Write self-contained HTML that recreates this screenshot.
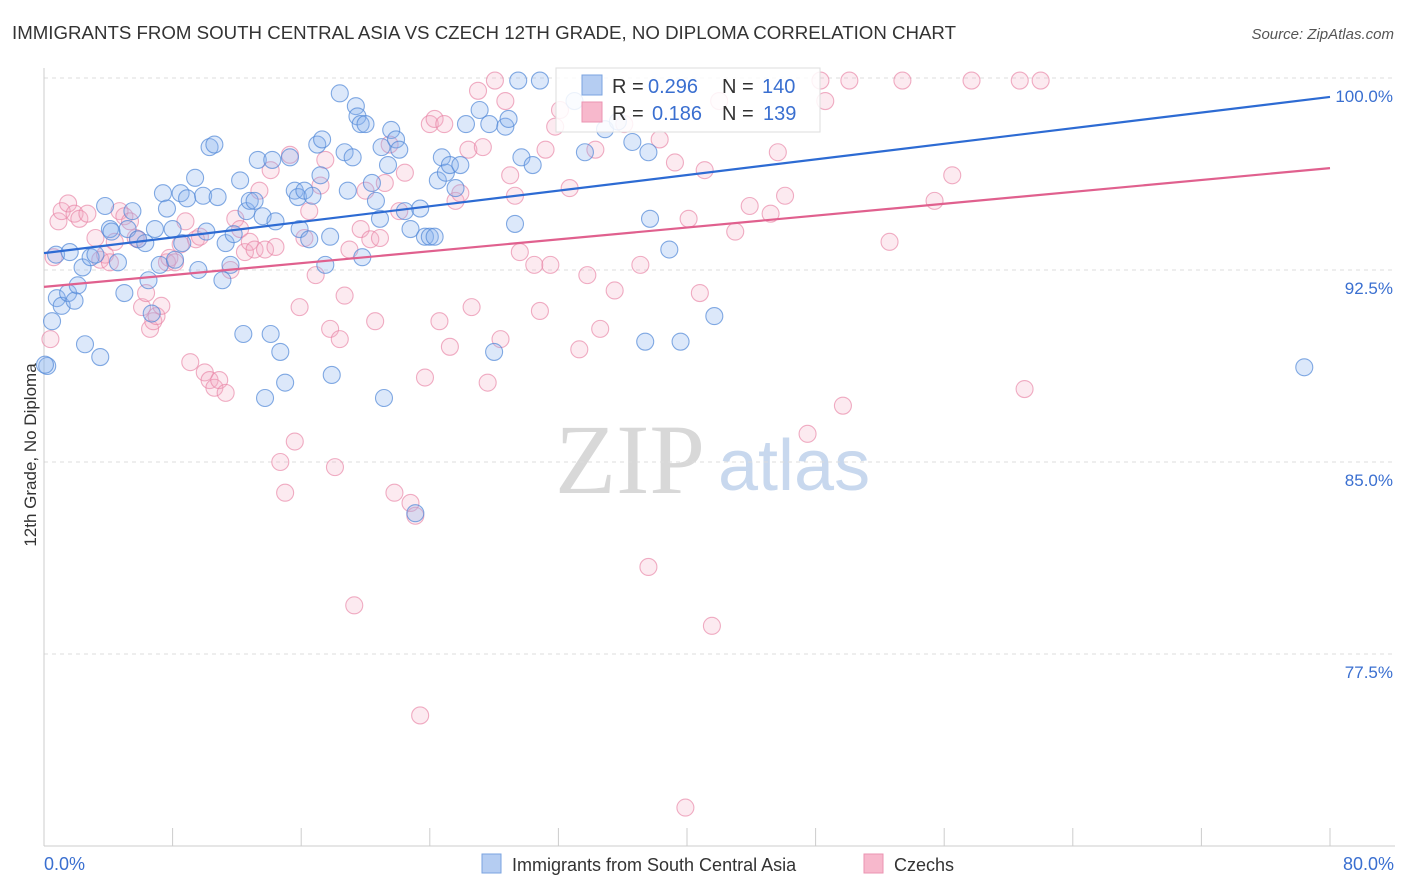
<!DOCTYPE html>
<html><head><meta charset="utf-8">
<style>
body{margin:0;background:#fff;font-family:"Liberation Sans",sans-serif;}
#wrap{position:relative;width:1406px;height:892px;overflow:hidden;}
</style></head>
<body>
<div id="wrap">
<svg id="chart" width="1406" height="892">
<text x="12" y="39" font-size="18" fill="#333" textLength="944" lengthAdjust="spacingAndGlyphs">IMMIGRANTS FROM SOUTH CENTRAL ASIA VS CZECH 12TH GRADE, NO DIPLOMA CORRELATION CHART</text>
<text x="1394" y="39" font-size="15" fill="#555" text-anchor="end" font-style="italic">Source: ZipAtlas.com</text>
<text x="36" y="455" font-size="17" fill="#333" text-anchor="middle" transform="rotate(-90 36 455)">12th Grade, No Diploma</text>
<text x="555" y="493" font-size="100" fill="#d8d8d8" font-family="Liberation Serif,serif">ZIP</text>
<text x="718" y="490" font-size="72" fill="#c8d8ee">atlas</text>
<g id="grid"></g><g id="pts"></g><g id="lines"></g>
<g>
<rect x="556" y="68" width="264" height="64" fill="#fff" fill-opacity="0.85" stroke="#ddd"/>
<rect x="582" y="75" width="20" height="20" fill="#b5cdf2" stroke="#7aa3e0"/>
<text y="93" font-size="20" fill="#333"><tspan x="612">R =</tspan><tspan x="648" fill="#3a6fd0">0.296</tspan><tspan x="722">N =</tspan><tspan x="762" fill="#3a6fd0">140</tspan></text>
<rect x="582" y="102" width="20" height="20" fill="#f7b8cc" stroke="#eb93b2"/>
<text y="120" font-size="20" fill="#333"><tspan x="612">R =</tspan><tspan x="652" fill="#3a6fd0">0.186</tspan><tspan x="722">N =</tspan><tspan x="763" fill="#3a6fd0">139</tspan></text>
</g>
<g>
<rect x="482" y="854" width="19" height="19" fill="#b5cdf2" stroke="#7aa3e0"/>
<text x="512" y="871" font-size="18" fill="#333">Immigrants from South Central Asia</text>
<rect x="864" y="854" width="19" height="19" fill="#f7b8cc" stroke="#eb93b2"/>
<text x="894" y="871" font-size="18" fill="#333">Czechs</text>
</g>
</svg>
</div>
<script>
const yTicks=[100,92.5,85,77.5];
const yTickLabels=["100.0%","92.5%","85.0%","77.5%"];
const xTickLabels=["0.0%","80.0%"];
const blueX=[0.2,0.5,0.8,1.1,1.5,1.9,2.1,2.4,2.55,2.9,3.2,3.5,3.8,4.1,4.2,4.6,5.0,5.2,5.5,5.85,6.3,6.5,6.7,6.9,7.2,7.4,7.65,8.0,8.15,8.5,8.6,8.9,9.4,9.6,9.9,10.1,10.3,10.6,10.8,11.1,11.3,11.6,11.8,12.2,12.4,12.6,12.8,13.1,13.3,13.6,13.75,14.1,14.2,14.4,14.7,15.0,15.3,15.6,15.8,15.9,16.2,16.5,16.7,17.0,17.2,17.3,17.5,17.8,17.9,18.4,18.7,18.9,19.2,19.4,19.5,19.7,19.8,20.0,20.4,20.65,20.9,21.0,21.15,21.4,21.6,21.9,22.1,22.45,22.8,23.1,23.4,23.7,24.0,24.3,24.5,24.75,25.0,25.25,25.6,25.9,26.25,27.1,27.7,28.0,28.7,28.9,29.3,29.5,29.7,30.4,30.85,33.0,33.65,34.9,35.7,36.6,37.4,37.7,37.6,38.9,39.6,41.7,78.4,0.06,0.75,1.6];
const blueY=[88.75,90.5,91.4,91.1,91.6,91.3,91.9,92.6,89.6,93.0,93.1,89.1,95.0,94.1,94.0,92.8,91.6,94.1,94.8,93.7,93.55,92.1,90.8,94.1,92.7,95.5,94.9,94.1,92.9,95.5,93.55,95.3,96.1,92.5,95.4,94.0,97.3,97.4,95.35,92.1,93.55,92.7,93.9,96.0,90.0,94.8,95.2,95.2,96.8,94.6,87.5,90.0,96.8,94.4,89.3,88.1,96.9,95.6,95.35,94.1,95.6,93.7,95.4,97.4,96.2,97.6,92.7,93.8,88.4,99.4,97.1,95.6,96.9,98.9,98.5,98.2,93.0,98.2,95.9,95.2,94.5,97.3,87.5,96.6,97.97,97.6,97.2,94.8,94.1,83.0,94.9,93.8,93.8,93.8,96.0,96.9,96.3,96.6,95.7,96.6,98.2,98.75,98.2,89.3,98.1,98.4,94.3,99.9,96.9,96.6,99.9,99.1,97.1,98.0,98.3,97.5,89.7,94.5,97.1,93.3,89.7,90.7,88.7,88.8,93.1,93.2];
const pinkX=[0.4,0.6,0.9,1.1,1.5,1.9,2.2,2.7,3.2,3.5,3.8,4.1,4.4,4.7,5.0,5.35,5.7,5.85,6.1,6.35,6.6,6.8,7.0,7.3,7.65,7.8,8.15,8.5,8.8,9.1,9.45,9.7,10.0,10.3,10.6,10.9,11.3,11.6,11.9,12.2,12.5,12.8,13.1,13.4,13.75,14.1,14.4,14.7,15.0,15.3,15.6,15.9,16.2,16.5,16.9,17.2,17.5,17.8,18.1,18.4,18.7,19.0,19.3,19.7,20.0,20.3,20.6,20.9,21.2,21.5,21.8,22.1,22.45,22.8,23.1,23.4,23.7,24.0,24.3,24.6,24.9,25.25,25.6,25.9,26.4,26.6,27.0,27.3,27.6,28.05,28.4,28.7,29.0,29.3,29.6,30.5,30.85,31.2,31.5,31.8,32.1,32.7,33.3,33.8,34.3,34.6,35.5,36.1,37.1,37.6,38.3,39.25,39.9,40.1,40.8,41.1,41.55,42.0,43.0,43.9,45.2,45.65,46.1,47.5,48.3,48.6,49.7,50.1,52.6,53.4,55.4,56.5,57.7,60.7,61.0,62.0];
const pinkY=[89.8,93.0,94.4,94.8,95.1,94.7,94.5,94.7,93.75,92.9,93.1,92.8,93.6,94.8,94.6,94.4,93.75,93.7,91.05,91.6,90.2,90.5,90.7,91.1,92.8,92.97,92.8,93.5,94.4,88.9,93.7,93.8,88.5,88.2,87.9,88.2,87.7,92.5,94.5,94.1,93.2,93.6,93.3,95.6,93.3,96.4,93.4,85.0,83.8,97.0,85.8,91.05,93.75,94.8,92.3,95.8,96.8,90.2,84.8,89.8,91.5,93.3,79.4,94.1,95.6,93.7,90.5,93.75,95.9,97.4,83.8,94.8,96.3,83.4,82.9,75.1,88.3,98.2,98.4,90.5,98.2,89.5,95.2,95.5,97.2,91.05,99.5,97.3,88.1,99.9,89.8,99.1,96.2,95.4,93.2,92.7,90.9,97.2,92.7,98.1,98.75,95.7,89.4,92.3,97.2,90.2,91.7,98.2,92.7,80.9,97.6,96.7,71.5,94.5,91.6,96.4,78.6,99.1,94.0,95.0,94.7,97.1,95.4,86.1,99.9,99.1,87.2,99.9,93.6,99.9,95.2,96.2,99.9,99.9,87.85,99.9];
const trendX=[0,80];
const blueTrend=[93.16,99.26];
const pinkTrend=[91.84,96.48];
const NS="http://www.w3.org/2000/svg";
const X0=44,X1=1330,YT=78,YB=846;
const xs=v=>X0+(v/80)*(X1-X0);
const ys=v=>YT+(100-v)/30*(YB-YT);
function mk(tag,attrs,parent){const e=document.createElementNS(NS,tag);for(const k in attrs)e.setAttribute(k,attrs[k]);parent.appendChild(e);return e;}
const grid=document.getElementById('grid');
yTicks.forEach((t,i)=>{
  const l=mk('line',{x1:X0,x2:1395,y1:ys(t),y2:ys(t),stroke:'#ddd','stroke-dasharray':'4 4'},grid);
  
  
  const tx=mk('text',{x:1393,y:ys(t)+24,'font-size':17,fill:'#3a6fd0','text-anchor':'end'},grid);
  tx.textContent=yTickLabels[i];
  
  
});
const ax=mk('line',{x1:X0,x2:X0,y1:68,y2:YB,stroke:'#ccc'},grid);


const bx=mk('line',{x1:X0,x2:1395,y1:YB,y2:YB,stroke:'#ccc'},grid);


for(let i=0;i<=10;i++){
  const t=mk('line',{x1:xs(i*8),x2:xs(i*8),y1:828,y2:YB,stroke:'#ccc'},grid);
  
  
}
[[0,'start',44],[80,'end',1394]].forEach((d,i)=>{
  const tx=mk('text',{x:d[2],y:870,'font-size':18,fill:'#3a6fd0','text-anchor':d[1]},grid);
  tx.textContent=xTickLabels[i];
  
  
});
const pts=document.getElementById('pts');
function drawPts(X,Y,fill,stroke,name){
  X.forEach((x,i)=>{
    const c=mk('circle',{cx:xs(x),cy:ys(Y[i]),r:8.5,fill:fill,stroke:stroke,'stroke-width':1.1},pts);
    
    
  });
}
drawPts(pinkX,pinkY,'rgba(244,170,195,0.25)','rgba(232,130,165,0.65)','point-czechs');
drawPts(blueX,blueY,'rgba(140,180,240,0.3)','rgba(80,135,215,0.7)','point-south-central-asia');
const lines=document.getElementById('lines');
const lb=mk('line',{x1:xs(trendX[0]),y1:ys(blueTrend[0]),x2:xs(trendX[1]),y2:ys(blueTrend[1]),stroke:'#2d6bd3','stroke-width':2.2},lines);


const lp=mk('line',{x1:xs(trendX[0]),y1:ys(pinkTrend[0]),x2:xs(trendX[1]),y2:ys(pinkTrend[1]),stroke:'#e0608e','stroke-width':2.2},lines);


</script>
</body></html>
